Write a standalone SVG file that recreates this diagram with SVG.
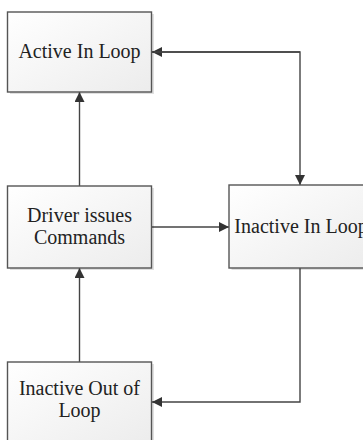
<svg xmlns="http://www.w3.org/2000/svg" width="363" height="440" viewBox="0 0 363 440">
<style>
.box{fill:url(#g);stroke:#555;stroke-width:1.4}
.sh{fill:#000;opacity:0.12}
.t{font-family:"Liberation Serif","Times New Roman",serif;font-size:20px;fill:#222;text-anchor:middle}
.c{fill:none;stroke:#444;stroke-width:1.4}
</style>
<defs>
<linearGradient id="g" x1="0" y1="0" x2="1" y2="1">
<stop offset="0" stop-color="#ffffff"/>
<stop offset="1" stop-color="#ececec"/>
</linearGradient>
<marker id="a" viewBox="0 0 10 10" refX="10" refY="5" markerWidth="10" markerHeight="10" markerUnits="userSpaceOnUse" orient="auto">
<path d="M0,0 L10,5 L0,10 Z" fill="#333"/>
</marker>
</defs>
<rect width="363" height="440" fill="#fff"/>
<g id="connectors">
<path class="c" d="M300,52 H152" marker-end="url(#a)"/>
<path class="c" d="M152,52 H300 V185" marker-end="url(#a)"/>
<path class="c" d="M79.5,186 V92" marker-end="url(#a)"/>
<path class="c" d="M152,227 H229" marker-end="url(#a)"/>
<path class="c" d="M300,268 V402 H152" marker-end="url(#a)"/>
<path class="c" d="M79.5,362 V268" marker-end="url(#a)"/>
</g>
<g id="active-in-loop">
<rect class="sh" x="10" y="14" width="144" height="80"/>
<rect class="box" x="7.5" y="12" width="144" height="80"/>
<text class="t" x="79.5" y="58">Active In Loop</text>
</g>
<g id="driver-issues-commands">
<rect class="sh" x="10" y="188" width="144" height="82"/>
<rect class="box" x="7.5" y="186" width="144" height="82"/>
<text class="t" x="79.5" y="222">Driver issues</text>
<text class="t" x="79.5" y="244">Commands</text>
</g>
<g id="inactive-in-loop">
<rect class="sh" x="231.5" y="187" width="144" height="83"/>
<rect class="box" x="229" y="185" width="144" height="83"/>
<text class="t" x="301" y="233">Inactive In Loop</text>
</g>
<g id="inactive-out-of-loop">
<rect class="sh" x="10" y="364" width="144" height="82"/>
<rect class="box" x="7.5" y="362" width="144" height="82"/>
<text class="t" x="79.5" y="395">Inactive Out of</text>
<text class="t" x="79.5" y="417">Loop</text>
</g>
</svg>
